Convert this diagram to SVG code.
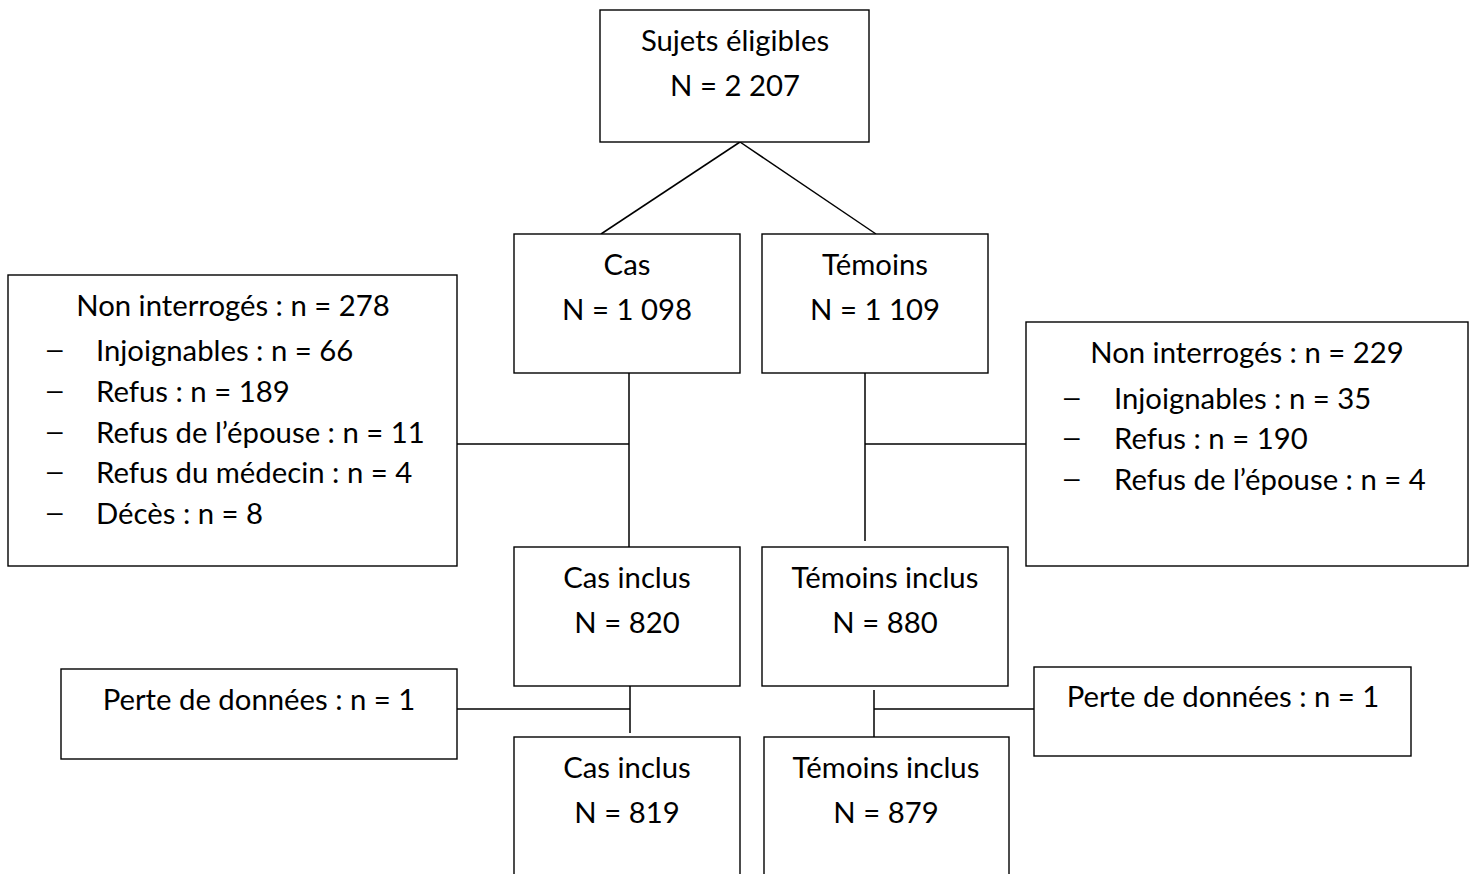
<svg xmlns="http://www.w3.org/2000/svg" width="1475" height="874" viewBox="0 0 1475 874">
<style>
rect{fill:#fff;stroke:#000;stroke-width:1.4}
line{stroke:#000;stroke-width:1.5}
text{font-family:Lato,"Open Sans","Liberation Sans",sans-serif;font-size:29.3px;fill:#000}
.c{text-anchor:middle}
.d{font-family:"Liberation Sans",Arial,sans-serif;font-size:28px}
</style>
<rect x="0" y="0" width="1475" height="874" style="stroke:none"/>
<g id="connectors">
<line x1="740" y1="142" x2="601" y2="234"/>
<line x1="740" y1="142" x2="876" y2="234"/>
<line x1="629" y1="373" x2="629" y2="547"/>
<line x1="457" y1="444" x2="629" y2="444"/>
<line x1="865" y1="373" x2="865" y2="541"/>
<line x1="865" y1="444" x2="1026" y2="444"/>
<line x1="630" y1="686" x2="630" y2="733"/>
<line x1="457" y1="709" x2="630" y2="709"/>
<line x1="874" y1="690" x2="874" y2="737"/>
<line x1="874" y1="709" x2="1034" y2="709"/>
</g>
<g id="eligibles">
<rect x="600" y="10" width="269" height="132"/>
<text class="c" x="735" y="51">Sujets éligibles</text>
<text class="c" x="735" y="96">N = 2 207</text>
</g>
<g id="cas">
<rect x="514" y="234" width="226" height="139"/>
<text class="c" x="627" y="275">Cas</text>
<text class="c" x="627" y="320">N = 1 098</text>
</g>
<g id="temoins">
<rect x="762" y="234" width="226" height="139"/>
<text class="c" x="875" y="275">Témoins</text>
<text class="c" x="875" y="320">N = 1 109</text>
</g>
<g id="non-interroges-cas">
<rect x="8" y="275" width="449" height="291"/>
<text class="c" x="233" y="316">Non interrogés : n = 278</text>
<text class="d" x="47" y="358">–</text><text x="96" y="361">Injoignables : n = 66</text>
<text class="d" x="47" y="399">–</text><text x="96" y="402">Refus : n = 189</text>
<text class="d" x="47" y="440">–</text><text x="96" y="443">Refus de l’épouse : n = 11</text>
<text class="d" x="47" y="480">–</text><text x="96" y="483">Refus du médecin : n = 4</text>
<text class="d" x="47" y="521">–</text><text x="96" y="524">Décès : n = 8</text>
</g>
<g id="non-interroges-temoins">
<rect x="1026" y="322" width="442" height="244"/>
<text class="c" x="1247" y="363">Non interrogés : n = 229</text>
<text class="d" x="1064" y="406">–</text><text x="1114" y="409">Injoignables : n = 35</text>
<text class="d" x="1064" y="446">–</text><text x="1114" y="449">Refus : n = 190</text>
<text class="d" x="1064" y="487">–</text><text x="1114" y="490">Refus de l’épouse : n = 4</text>
</g>
<g id="cas-inclus">
<rect x="514" y="547" width="226" height="139"/>
<text class="c" x="627" y="588">Cas inclus</text>
<text class="c" x="627" y="633">N = 820</text>
</g>
<g id="temoins-inclus">
<rect x="762" y="547" width="246" height="139"/>
<text class="c" x="885" y="588">Témoins inclus</text>
<text class="c" x="885" y="633">N = 880</text>
</g>
<g id="perte-cas">
<rect x="61" y="669" width="396" height="90"/>
<text class="c" x="259" y="710">Perte de données : n = 1</text>
</g>
<g id="perte-temoins">
<rect x="1034" y="667" width="377" height="89"/>
<text class="c" x="1223" y="707">Perte de données : n = 1</text>
</g>
<g id="cas-inclus-final">
<rect x="514" y="737" width="226" height="160"/>
<text class="c" x="627" y="778">Cas inclus</text>
<text class="c" x="627" y="823">N = 819</text>
</g>
<g id="temoins-inclus-final">
<rect x="764" y="737" width="245" height="160"/>
<text class="c" x="886" y="778">Témoins inclus</text>
<text class="c" x="886" y="823">N = 879</text>
</g>
</svg>
